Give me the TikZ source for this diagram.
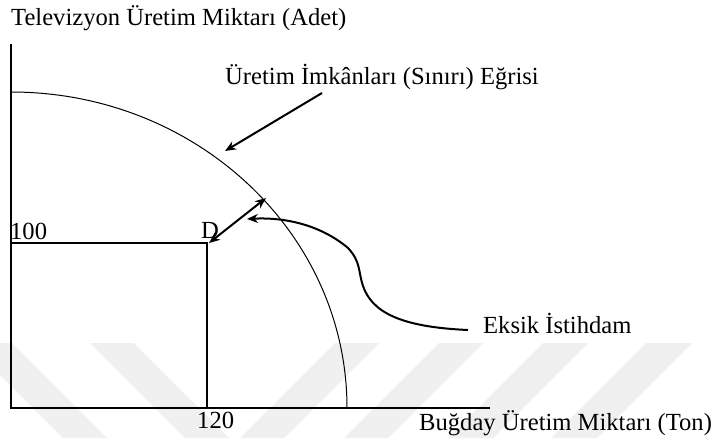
\documentclass[tikz,border=0pt]{standalone}
\usepackage{fontspec}
\setmainfont{Liberation Serif}
\usetikzlibrary{arrows.meta}
\begin{document}
\begin{tikzpicture}[x=1pt,y=1pt,
  lbl/.style={inner sep=0pt,anchor=base west,font=\fontsize{24.6}{28}\selectfont},
  axisline/.style={line width=1.3pt},
  frontier/.style={line width=1pt},
  guide/.style={line width=1.3pt},
  pointer/.style={line width=2pt,-{Stealth[length=11pt,width=9pt]}},
  dblpointer/.style={line width=2pt,{Stealth[length=11pt,width=9pt]}-{Stealth[length=11pt,width=9pt]}},
  wm/.style={fill=black!6,draw=none}]
\useasboundingbox (0,0) rectangle (716,-442);
\fill[white] (0,0) rectangle (716,-442);
% watermark stripes
\fill[wm] (-32,-343) -- (12,-343) -- (107,-438) -- (63,-438) -- cycle;
\fill[wm] (90,-343) -- (134,-343) -- (229,-438) -- (185,-438) -- cycle;
\fill[wm] (335,-343) -- (379,-343) -- (284,-438) -- (240,-438) -- cycle;
\fill[wm] (439,-343) -- (483,-343) -- (388,-438) -- (344,-438) -- cycle;
\fill[wm] (543,-343) -- (588,-343) -- (493,-438) -- (448,-438) -- cycle;
\fill[wm] (646,-343) -- (692,-343) -- (597,-438) -- (551,-438) -- cycle;
% axes
\coordinate (O) at (11,-408);
\coordinate (ytop) at (11,-44);
\coordinate (xend) at (490,-408);
\draw[axisline] (ytop) -- (O) -- (xend);
% frontier
\coordinate (fstart) at (11,-92);
\draw[frontier] (fstart) arc[start angle=90,end angle=0,x radius=336,y radius=316];
% point D guides
\coordinate (Dp) at (207,-243);
\coordinate (Dy) at (11,-243);
\coordinate (Dx) at (207,-408);
\draw[guide] (Dy) -- (Dp) -- (Dx);
% labels
\node[lbl] (ylab) at (11,-25) {Televizyon Üretim Miktarı (Adet)};
\node[lbl] (flab) at (225,-84) {Üretim İmkânları (Sınırı) Eğrisi};
\node[lbl] (l100) at (10,-239) {100};
\node[lbl] (lD) at (201,-238) {D};
\node[lbl] (l120) at (197,-428) {120};
\node[lbl] (elab) at (483,-333) {Eksik İstihdam};
\node[lbl] (xlab) at (419,-430) {Buğday Üretim Miktarı (Ton)};
% arrows
\coordinate (fa1) at (322,-93);
\coordinate (fa2) at (225,-151);
\draw[pointer] (fa1) -- (fa2);
\coordinate (da1) at (209,-243);
\coordinate (da2) at (266,-198);
\draw[dblpointer] (da1) -- (da2);
\coordinate (eEnd) at (468,-330);
\coordinate (eTip) at (247,-219);
\draw[pointer] (eEnd) .. controls (400,-327) and (372,-312) .. (363,-286)
  .. controls (358,-271) and (361,-262) .. (348,-248)
  .. controls (322,-226) and (287,-217) .. (eTip);
\end{tikzpicture}
\end{document}
